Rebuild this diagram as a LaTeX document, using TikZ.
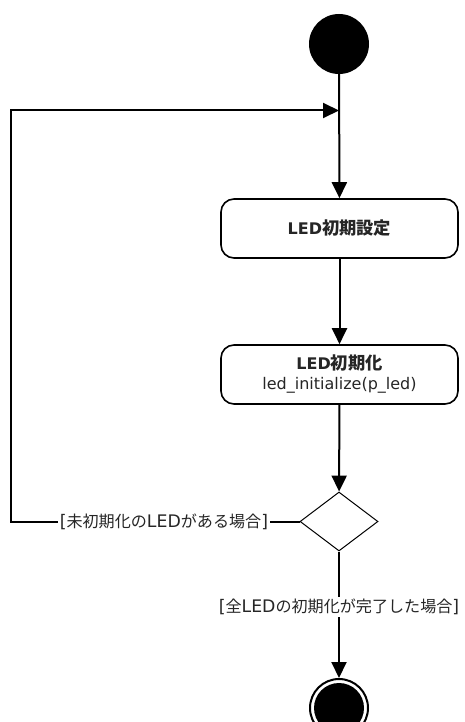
\documentclass[tikz,border=0pt]{standalone}
\usepackage{fontspec}
\setmainfont{DejaVu Sans}
\newfontfamily\jp[Scale=0.93]{Noto Sans CJK JP}
\newfontfamily\jpb[Scale=1.08]{Noto Sans CJK JP}
\usetikzlibrary{shapes.geometric,arrows.meta}
\begin{document}
\begin{tikzpicture}[x=1pt, y=-1pt]
      \tikzstyle{every node} = [inner sep = 0pt, text=black!85];
      \tikzstyle{flow} = [-{Triangle[length=16pt,width=15pt]}, line width=2pt];
      \tikzstyle{act} = [draw, line width=1.6pt, rounded corners=13pt, fill=white,
        minimum width=237pt, minimum height=59pt, align=center,
        font=\fontsize{16}{20}\selectfont];
      \tikzstyle{guard} = [fill=white, inner sep=2pt, font=\fontsize{17.3}{20}\selectfont];
      \useasboundingbox (0,0) rectangle (465,722);
      % start / end
      \node (start) [circle, fill=black, minimum size=60pt] at (339,44) {};
      \node (end) [circle, draw, line width=2pt, minimum size=58pt] at (339,708) {};
      \fill (end.center) circle (25pt);
      % actions
      \node (setup) [act] at (339.5,228.5) {\bfseries LED{\jpb 初期設定}};
      \node (init) [act] at (339.5,374.5) {{\bfseries LED{\jpb 初期化}}\\led\_initialize(p\_led)};
      \node (check) [diamond, draw, line width=1pt, minimum width=78pt, minimum height=59pt] at (339,521.5) {};
      % loop back
      \coordinate (left) at (11,521.5);
      \coordinate (top) at (11,110.5);
      \coordinate (join) at (339,110.5);
      \draw[flow] (start) -- (setup);
      \draw[flow] (setup) -- (init);
      \draw[flow] (init) -- (check);
      \draw[flow] (check.west) -- node[guard, pos=0.47]{[{\jp 未初期化の}LED{\jp がある場合}]} (left) -- (top) -- (join);
      \draw[flow] (check.south) -- node[guard, pos=0.44]{[{\jp 全}LED{\jp の初期化が完了した場合}]} (end);
\end{tikzpicture}
\end{document}
